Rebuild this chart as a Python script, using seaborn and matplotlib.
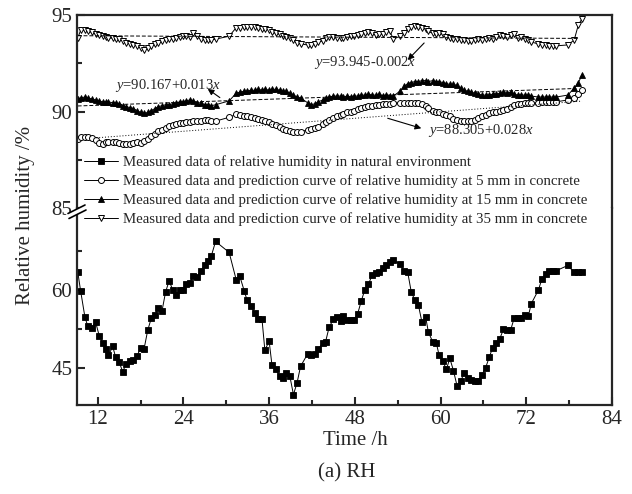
import numpy as np
import matplotlib
matplotlib.use('Agg')
import matplotlib.pyplot as plt
from matplotlib.lines import Line2D
import seaborn as sns

# time of measurement (h)
time_h = [9.2, 9.6, 10.2, 10.6, 11.2, 11.7, 12.2, 12.7, 13.1, 13.5,
          14.1, 14.5, 15.0, 15.5, 16.0, 16.5, 17.0, 17.5, 18.0, 18.5,
          19.0, 19.5, 20.0, 20.5, 21.0, 21.5, 22.0, 22.5, 23.0, 23.5,
          23.9, 24.4, 24.9, 25.4, 25.9, 26.4, 27.0, 27.5, 27.9, 28.5,
          30.4, 31.4, 31.9, 32.5, 32.9, 33.4, 34.0, 34.5, 35.0, 35.4,
          36.0, 36.4, 36.9, 37.5, 37.9, 38.4, 38.9, 39.4, 39.9, 40.4,
          41.4, 41.9, 42.4, 42.9, 43.5, 43.9, 44.4, 45.0, 45.5, 46.0,
          46.4, 46.9, 47.4, 47.9, 48.4, 48.9, 49.4, 49.9, 50.4, 50.9,
          51.4, 51.9, 52.4, 52.9, 53.4, 54.3, 54.9, 55.4, 55.9, 56.4,
          56.9, 57.4, 57.9, 58.3, 58.9, 59.4, 59.8, 60.3, 60.8, 61.3,
          61.8, 62.3, 62.8, 63.3, 63.8, 64.3, 64.8, 65.3, 65.8, 66.3,
          66.8, 67.3, 67.8, 68.3, 68.8, 69.3, 69.8, 70.3, 70.8, 71.3,
          71.8, 72.3, 72.7, 73.7, 74.2, 74.7, 75.2, 75.7, 76.2, 77.8,
          78.7, 79.3, 79.8]

# natural environment RH (%)
rh_env = [63.5, 59.9, 54.9, 53.1, 52.8, 53.9, 51.3, 49.9, 48.7, 47.5,
          49.2, 47.2, 46.2, 44.4, 45.9, 46.4, 46.7, 47.3, 49.0, 48.8,
          52.3, 54.6, 55.2, 56.5, 56.0, 59.6, 61.8, 60.0, 59.0, 60.0,
          60.0, 61.1, 61.4, 62.7, 62.4, 63.7, 64.7, 65.6, 66.5, 69.3,
          67.2, 61.9, 62.6, 59.9, 58.1, 56.9, 55.7, 54.4, 54.4, 48.5,
          50.2, 45.6, 44.9, 43.5, 43.1, 44.1, 43.5, 40.0, 42.2, 45.4,
          47.8, 47.5, 47.7, 48.7, 49.9, 50.1, 52.9, 54.4, 54.8, 54.0,
          55.1, 54.2, 54.2, 54.2, 55.5, 57.9, 60.1, 61.1, 62.8, 63.3,
          63.5, 64.3, 64.8, 65.3, 65.8, 64.9, 63.7, 63.4, 59.6, 58.1,
          57.1, 53.8, 54.9, 51.9, 50.1, 49.9, 47.5, 46.5, 44.8, 46.9,
          44.6, 41.7, 42.5, 44.1, 43.2, 42.8, 42.6, 42.6, 43.8, 45.1,
          47.1, 49.0, 49.9, 50.7, 52.5, 52.3, 52.3, 54.6, 54.6, 54.7,
          55.3, 55.1, 57.4, 60.0, 62.2, 63.1, 63.7, 63.7, 63.7, 64.7,
          63.4, 63.4, 63.4]

# RH in concrete at 5 mm (%)
rh_5mm = [88.6, 88.7, 88.7, 88.7, 88.65, 88.5, 88.35, 88.3, 88.4, 88.4,
          88.4, 88.4, 88.35, 88.3, 88.3, 88.3, 88.35, 88.4, 88.35, 88.45,
          88.6, 88.75, 88.85, 89.0, 89.05, 89.15, 89.25, 89.3, 89.35, 89.4,
          89.4, 89.45, 89.45, 89.5, 89.5, 89.5, 89.55, 89.55, 89.5, 89.5,
          89.7, 89.85, 89.8, 89.75, 89.75, 89.7, 89.65, 89.6, 89.55, 89.5,
          89.45, 89.35, 89.3, 89.2, 89.1, 89.05, 89.0, 88.95, 88.95, 88.95,
          89.05, 89.1, 89.15, 89.2, 89.35, 89.45, 89.55, 89.65, 89.75, 89.8,
          89.85, 89.95, 90.0, 90.05, 90.15, 90.2, 90.25, 90.3, 90.3, 90.35,
          90.35, 90.4, 90.4, 90.4, 90.45, 90.45, 90.45, 90.45, 90.45, 90.45,
          90.45, 90.4, 90.3, 90.2, 90.05, 90.0, 89.95, 89.85, 89.8, 89.75,
          89.6, 89.55, 89.5, 89.5, 89.5, 89.5, 89.55, 89.65, 89.75, 89.8,
          89.9, 89.95, 90.0, 90.05, 90.1, 90.15, 90.25, 90.35, 90.4, 90.4,
          90.45, 90.45, 90.45, 90.45, 90.5, 90.5, 90.5, 90.5, 90.5, 90.6,
          90.7, 90.9, 91.1]

# RH in concrete at 15 mm (%)
rh_15mm = [90.65, 90.7, 90.75, 90.7, 90.65, 90.6, 90.55, 90.5, 90.5, 90.5,
           90.45, 90.45, 90.4, 90.3, 90.25, 90.2, 90.15, 90.05, 89.95, 89.9,
           89.95, 90.05, 90.15, 90.25, 90.3, 90.35, 90.35, 90.4, 90.45, 90.5,
           90.5, 90.55, 90.6, 90.55, 90.45, 90.45, 90.35, 90.35, 90.3, 90.35,
           90.55, 90.95, 91.0, 91.05, 91.05, 91.1, 91.1, 91.15, 91.1, 91.15,
           91.1, 91.15, 91.15, 91.1, 91.05, 91.05, 90.95, 90.85, 90.75, 90.7,
           90.45, 90.35, 90.4, 90.5, 90.6, 90.7, 90.75, 90.8, 90.8, 90.8,
           90.75, 90.8, 90.75, 90.8, 90.8, 90.85, 90.85, 90.9, 90.85, 90.85,
           90.9, 90.8, 90.85, 90.8, 90.8, 91.05, 91.3, 91.45, 91.5, 91.55,
           91.55, 91.6, 91.6, 91.55, 91.6, 91.55, 91.55, 91.5, 91.45, 91.4,
           91.4, 91.35, 91.2, 91.1, 91.05, 91.0, 90.95, 90.9, 90.85, 90.85,
           90.85, 90.9, 90.9, 90.95, 91.0, 90.95, 91.0, 90.9, 90.85, 90.85,
           90.85, 90.85, 90.8, 90.75, 90.75, 90.75, 90.75, 90.75, 90.75, 90.85,
           91.2, 91.5, 91.9]

# RH in concrete at 35 mm (%)
rh_35mm = [93.8, 94.2, 94.2, 94.15, 94.1, 94.0, 93.95, 93.9, 93.85, 93.8,
           93.8, 93.75, 93.75, 93.65, 93.55, 93.5, 93.45, 93.4, 93.3, 93.2,
           93.3, 93.4, 93.5, 93.55, 93.65, 93.7, 93.75, 93.75, 93.8, 93.85,
           93.9, 93.9, 93.85, 94.05, 93.9, 93.75, 93.7, 93.7, 93.7, 93.75,
           93.9, 94.35, 94.35, 94.4, 94.4, 94.4, 94.4, 94.35, 94.3, 94.3,
           94.2, 94.1, 94.05, 94.0, 93.9, 93.85, 93.8, 93.7, 93.55, 93.5,
           93.45, 93.45, 93.5, 93.6, 93.65, 93.8, 93.85, 93.85, 93.8, 93.8,
           93.8, 93.85, 93.9, 93.9, 93.95, 94.0, 94.05, 94.1, 94.05, 93.95,
           94.0, 94.0, 94.1, 94.15, 93.75, 93.9, 94.05, 94.3, 94.4, 94.45,
           94.4, 94.35, 94.3, 94.15, 94.05, 94.0, 94.05, 94.0, 93.85, 93.8,
           93.75, 93.75, 93.7, 93.7, 93.65, 93.65, 93.7, 93.75, 93.7, 93.75,
           93.8, 93.75, 93.85, 93.95, 93.9, 93.85, 93.95, 94.0, 93.8, 93.85,
           93.75, 93.7, 93.6, 93.5, 93.45, 93.45, 93.4, 93.4, 93.4, 93.45,
           93.7, 94.5, 94.8]

# linear fits shown on the chart: (intercept, slope), time span
fit_5mm = (88.305, 0.028)
fit_15mm = (90.167, 0.013)
fit_35mm = (93.945, -0.002)
span_5mm = (11.8, 79.8)
span_15mm = (9.2, 79.0)
span_35mm = (9.2, 79.3)

labels = ['Measured data of relative humidity in natural environment',
          'Measured data and prediction curve of relative humidity at 5 mm in concrete',
          'Measured data and prediction curve of relative humidity at 15 mm in concrete',
          'Measured data and prediction curve of relative humidity at 35 mm in concrete']

sns.set_style('ticks')
plt.rcParams['font.family'] = ['Liberation Serif', 'DejaVu Serif']
plt.rcParams['mathtext.fontset'] = 'custom'
plt.rcParams['mathtext.rm'] = 'Liberation Serif'
plt.rcParams['mathtext.it'] = 'Liberation Serif:italic'

W, H = 632, 494
fig = plt.figure(figsize=(W / 100, H / 100), dpi=100)


def fx(px):
    return px / W


def fy(py):
    return 1 - py / H


ax_top = fig.add_axes([fx(77), fy(208), fx(612) - fx(77), fy(15) - fy(208)])
ax_bot = fig.add_axes([fx(77), fy(405), fx(612) - fx(77), fy(208) - fy(405)])

t = np.array(time_h)
common = dict(color='k', lw=0.7, estimator=None, sort=False, legend=False)
sns.lineplot(x=t, y=np.array(rh_env), ax=ax_bot, marker='s', markersize=4.3,
             markerfacecolor='k', markeredgecolor='k', markeredgewidth=0.6, **common)
sns.lineplot(x=t, y=np.array(rh_5mm), ax=ax_top, marker='o', markersize=4.3,
             markerfacecolor='white', markeredgecolor='k', markeredgewidth=0.7, **common)
sns.lineplot(x=t, y=np.array(rh_15mm), ax=ax_top, marker='^', markersize=4.8,
             markerfacecolor='k', markeredgecolor='k', markeredgewidth=0.6, **common)
sns.lineplot(x=t, y=np.array(rh_35mm), ax=ax_top, marker='v', markersize=4.8,
             markerfacecolor='white', markeredgecolor='k', markeredgewidth=0.7, **common)

for (b0, b1), (s0, s1), ls in [(fit_5mm, span_5mm, (0, (1, 2))),
                               (fit_15mm, span_15mm, (0, (4, 2))),
                               (fit_35mm, span_35mm, (0, (4, 2)))]:
    xs = np.array([s0, s1])
    ax_top.plot(xs, b0 + b1 * xs, color='k', lw=0.7, ls=ls)

ax_top.set_ylim(85, 95)
ax_bot.set_ylim(38, 75.7)
for ax in (ax_top, ax_bot):
    ax.set_xlim(9.1, 84)
    ax.set_xlabel('')
    ax.set_ylabel('')
    for s in ax.spines.values():
        s.set_linewidth(1.6)
    ax.tick_params(which='both', direction='in', width=1.5, labelsize=15,
                   right=False, top=False)
    ax.tick_params(which='major', length=6)
    ax.tick_params(which='minor', length=3.5)

ax_top.spines['bottom'].set_visible(False)
ax_bot.spines['top'].set_visible(False)
ax_top.tick_params(axis='x', which='both', bottom=False, labelbottom=False)
ax_top.set_yticks([85, 90, 95])
ax_top.set_yticks([87.5, 92.5], minor=True)
ax_bot.set_yticks([45, 60])
ax_bot.set_yticks([52.5, 67.5], minor=True)
ax_bot.set_xticks([12, 24, 36, 48, 60, 72, 84])
ax_bot.set_xticks([18, 30, 42, 54, 66, 78], minor=True)
ax_top.set_xticks([12, 24, 36, 48, 60, 72, 84])

# fit equations with arrows
arrow = dict(arrowstyle='-|>', color='k', lw=0.8, mutation_scale=9, shrinkA=0, shrinkB=0)
ax_top.text(42.3, 92.55, r'$y$=93.945-0.002$x$', fontsize=10.5, va='center', ha='left')
ax_top.annotate('', xy=(55.4, 92.67), xytext=(57.7, 93.55), arrowprops=arrow)
ax_top.text(14.4, 91.37, r'$y$=90.167+0.013$x$', fontsize=10.5, va='center', ha='left')
ax_top.annotate('', xy=(27.4, 91.17), xytext=(29.1, 90.72), arrowprops=arrow)
ax_top.text(58.2, 89.04, r'$y$=88.305+0.028$x$', fontsize=10.5, va='center', ha='left')
ax_top.annotate('', xy=(57.3, 89.13), xytext=(52.6, 89.65), arrowprops=arrow)

handles = [ax_bot.lines[0], ax_top.lines[0], ax_top.lines[1], ax_top.lines[2]]
fig.legend(handles, labels, loc='upper left', bbox_to_anchor=(fx(84), fy(155)),
           frameon=False, fontsize=10.7, handlelength=2.3, handletextpad=0.35,
           labelspacing=0.36, borderpad=0, borderaxespad=0)

# axis break marks
fig.add_artist(Line2D([fx(68), fx(86)], [fy(216), fy(207)], color='white', lw=3.5))
fig.add_artist(Line2D([fx(68), fx(85)], [fy(213.5), fy(205)], color='k', lw=1.2))
fig.add_artist(Line2D([fx(69), fx(86)], [fy(218.5), fy(210)], color='k', lw=1.2))

fig.text(fx(355), fy(440), 'Time /h', fontsize=15, ha='center', va='center')
fig.text(fx(347), fy(473), '(a) RH', fontsize=15, ha='center', va='center')
fig.text(fx(26), fy(215), 'Relative humidity /%', fontsize=15, ha='center',
         va='center', rotation=90)

fig.savefig('out.png', dpi=100)
